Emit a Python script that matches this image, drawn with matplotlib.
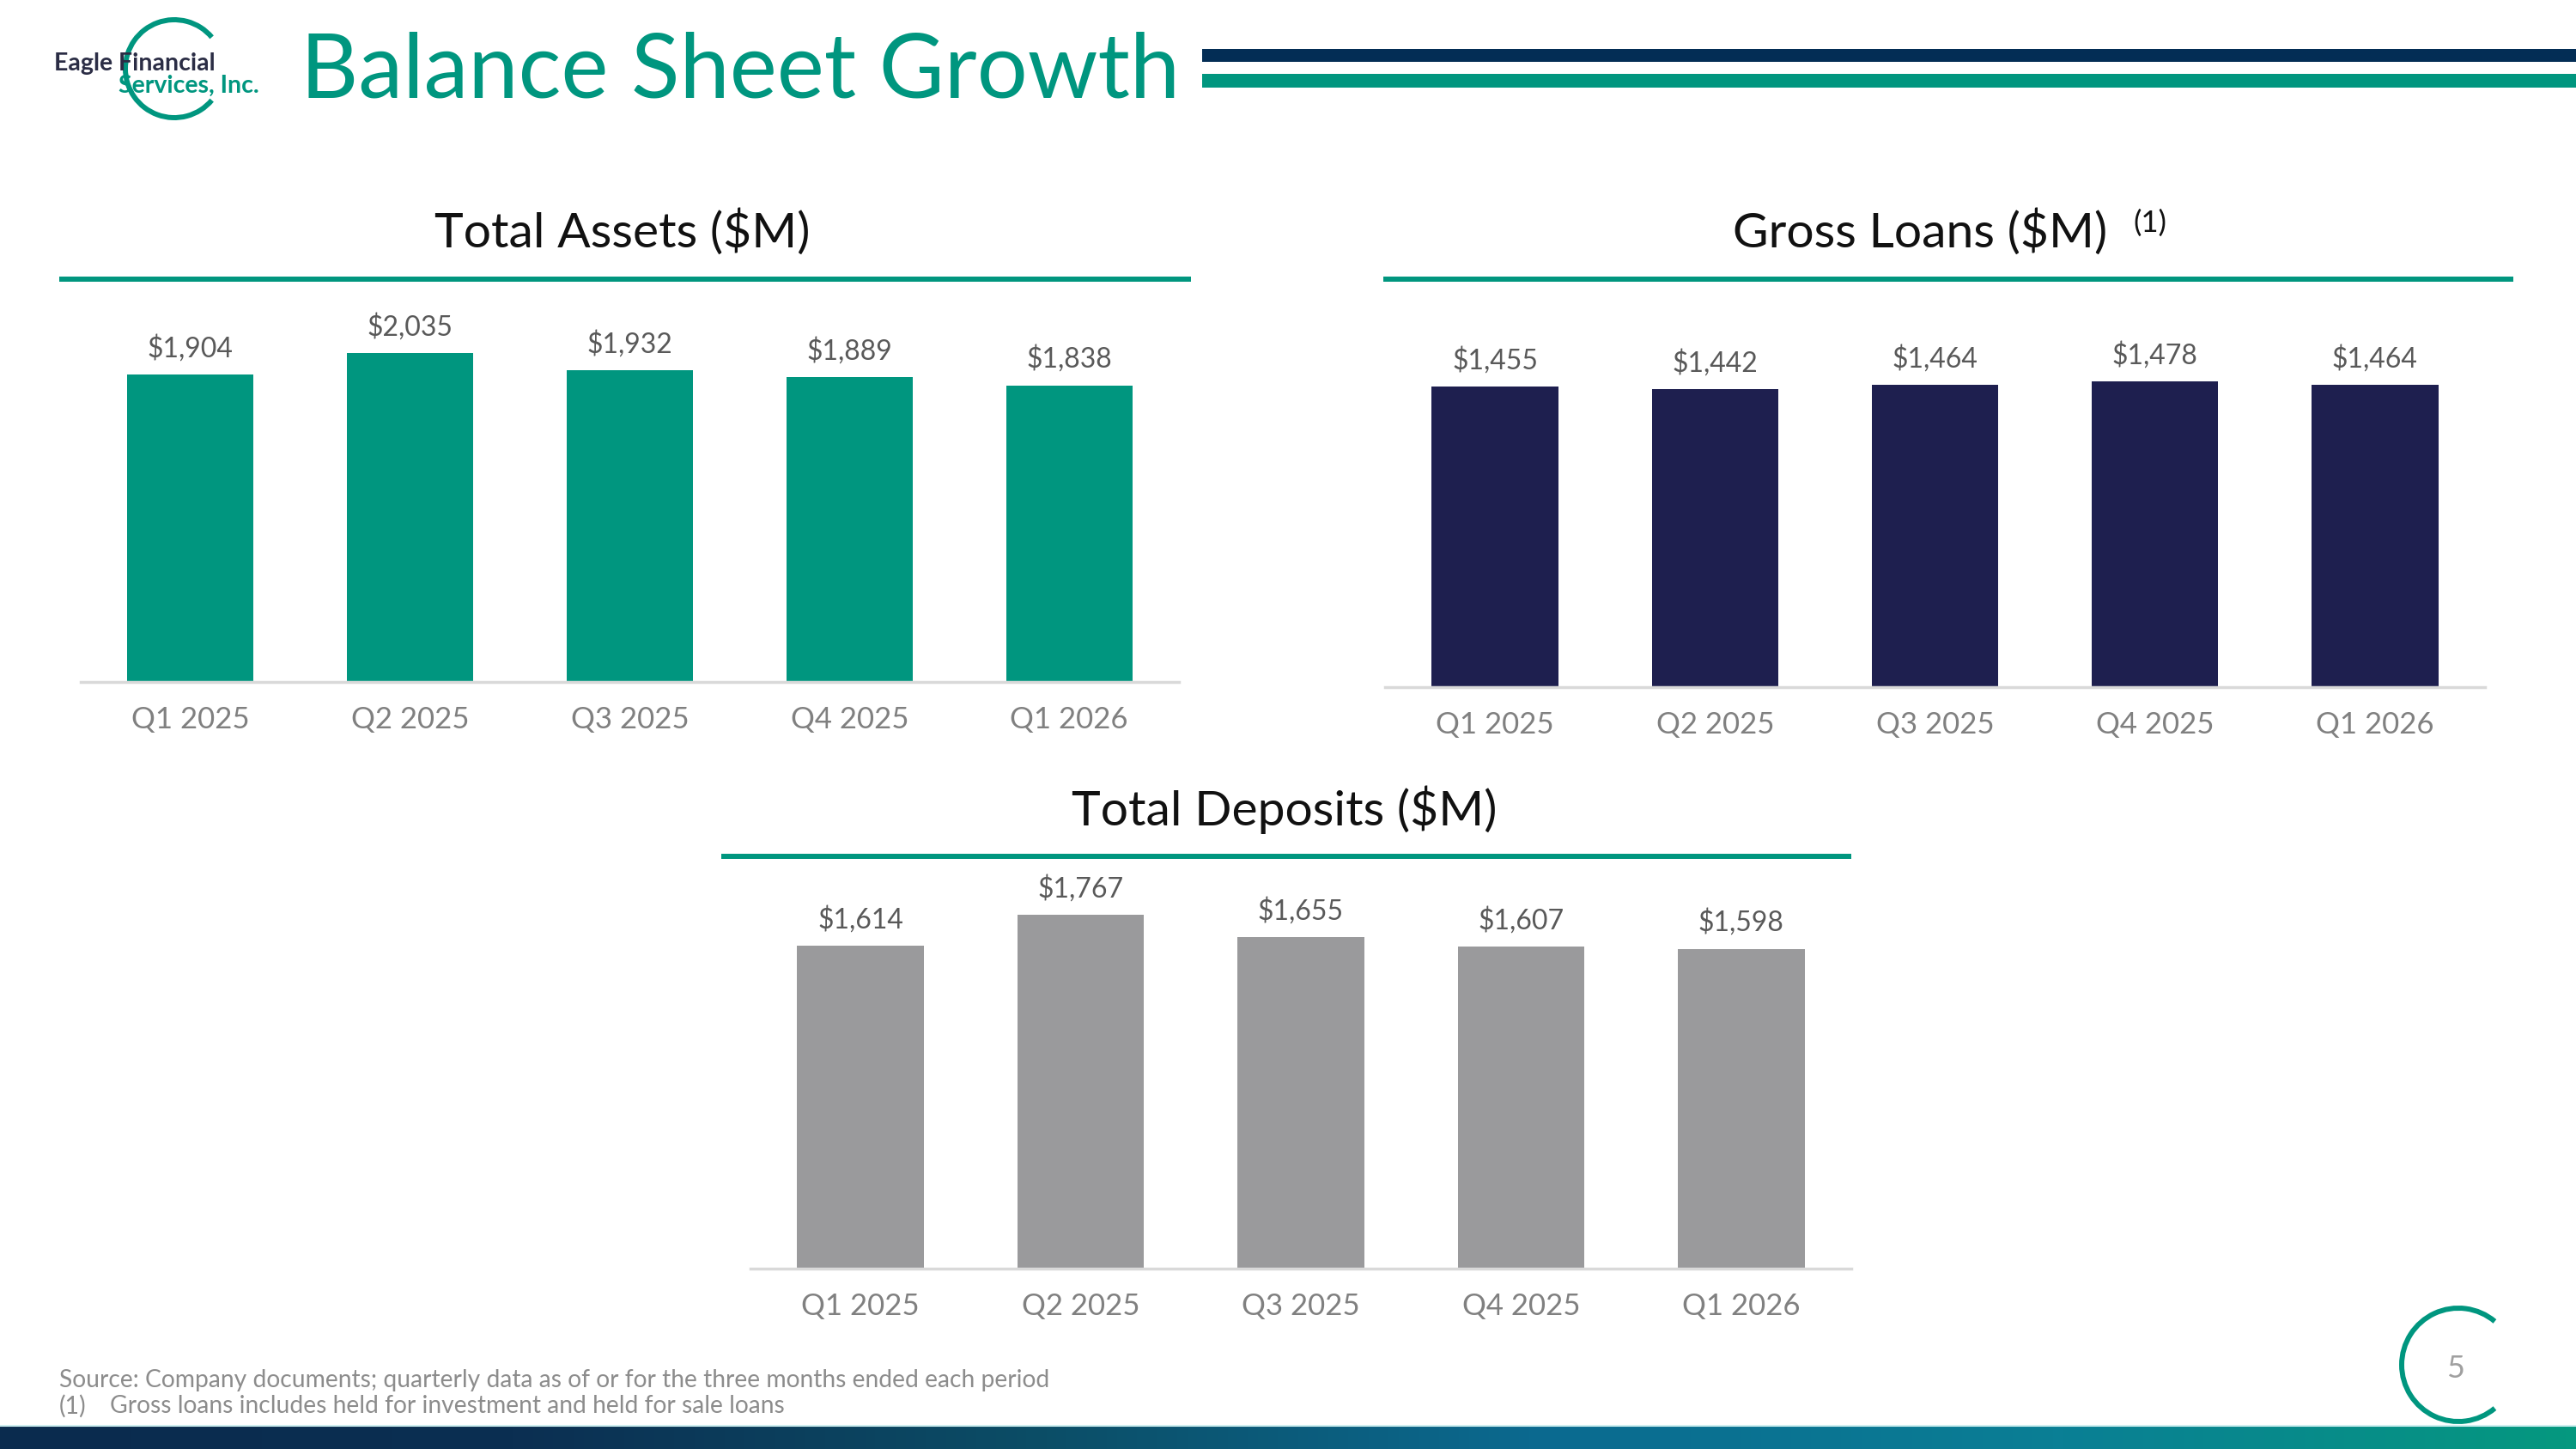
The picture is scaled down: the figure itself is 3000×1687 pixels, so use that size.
import numpy as np
import matplotlib.pyplot as plt
from matplotlib.patches import Arc, Rectangle
from matplotlib.colors import LinearSegmentedColormap

# Datos
quarters = ['Q1 2025', 'Q2 2025', 'Q3 2025', 'Q4 2025', 'Q1 2026']
total_assets = [1904, 2035, 1932, 1889, 1838]
gross_loans = [1455, 1442, 1464, 1478, 1464]
total_deposits = [1614, 1767, 1655, 1607, 1598]

W, H = 3000, 1687
TEAL = '#00967f'
NAVY_BAR = '#1e1f4f'
GRAY_BAR = '#9a9a9c'
NAVY_LINE = '#032d55'

plt.rcParams['font.family'] = ['Lato', 'DejaVu Sans']

fig = plt.figure(figsize=(30, 16.87), dpi=100)


def box(x0, y0, x1, y1):
    # pixel box (top-left origin) -> figure fraction
    return [x0 / W, 1 - y1 / H, (x1 - x0) / W, (y1 - y0) / H]


# capa de fondo en pixeles
bg = fig.add_axes([0, 0, 1, 1])
bg.axis('off')

# barra inferior con degradado
grad = LinearSegmentedColormap.from_list(
    'band', ['#0a2b4e', '#0b2f52', '#0b4d66', '#0b6a90', '#0a7f95', '#05987f'])
bg.imshow(np.linspace(0, 1, 256)[None, :], cmap=grad, aspect='auto',
          extent=[0, W, H, 1660], zorder=1)
bg.plot([0, W], [1660, 1660], color='#cfeff0', lw=1.5, zorder=2)

bg.set_xlim(0, W)
bg.set_ylim(H, 0)

# cabecera
bg.add_patch(Rectangle((1400, 57), W - 1400, 15, color=NAVY_LINE, lw=0))
bg.add_patch(Rectangle((1400, 86), W - 1400, 16, color=TEAL, lw=0))
bg.text(350, 84, 'Balance Sheet Growth', fontsize=75, color=TEAL,
        ha='left', va='center')

# logo
bg.add_patch(Arc((203, 80), 114, 114, theta1=40, theta2=320, color=TEAL, lw=4.3, zorder=1))
bg.text(63, 74, 'Eagle Financial', fontsize=20.5, fontweight='bold',
        color='#2b2d45', ha='left', va='center', zorder=3)
bg.text(138, 100, 'Services, Inc.', fontsize=20.5, fontweight='bold',
        color=TEAL, ha='left', va='center', zorder=3)

# numero de pagina
bg.add_patch(Arc((2863, 1589), 132, 132, theta1=50, theta2=310, color=TEAL, lw=4.3))
bg.text(2860, 1593, '5', fontsize=26, color='#a0a0a0', ha='center', va='center')

# pie
FOOT = 20.3
bg.text(69, 1607, 'Source: Company documents; quarterly data as of or for the three months ended each period',
        fontsize=FOOT, color='#8c8c8c', ha='left', va='center')
bg.text(69, 1637, '(1)', fontsize=FOOT, color='#8c8c8c', ha='left', va='center')
bg.text(128, 1637, 'Gross loans includes held for investment and held for sale loans',
        fontsize=FOOT, color='#8c8c8c', ha='left', va='center')


def panel(x0, x1, y_top, y_base, values, color, ymax):
    ax = fig.add_axes(box(x0, y_top, x1, y_base))
    ax.bar(range(len(values)), values, width=0.575, color=color, zorder=2)
    ax.set_xlim(-0.5, len(values) - 0.5)
    ax.set_ylim(0, ymax)
    for i, v in enumerate(values):
        ax.annotate(f'${v:,}', (i, v), xytext=(0, 22), textcoords='offset points',
                    ha='center', va='center', fontsize=23, color='#595959')
    ax.set_xticks(range(len(values)), quarters)
    ax.set_yticks([])
    ax.tick_params(axis='x', length=0, pad=20, labelsize=25, labelcolor='#808080')
    for s in ['top', 'right', 'left']:
        ax.spines[s].set_visible(False)
    ax.spines['bottom'].set_color('#d9d9d9')
    ax.spines['bottom'].set_linewidth(2.5)
    ax.patch.set_alpha(0)
    return ax


# Total Assets
bg.text(725, 270, 'Total Assets ($M)', fontsize=41, color='#111111', ha='center', va='center')
bg.plot([69, 1387], [325, 325], color=TEAL, lw=4.3, solid_capstyle='butt')
panel(94, 1373, 340, 794, total_assets, TEAL, 454 * 5.32)

# Gross Loans
bg.text(2236, 270, 'Gross Loans ($M)', fontsize=41, color='#111111', ha='center', va='center')
bg.text(2484, 260, '(1)', fontsize=25, color='#111111', ha='left', va='center')
bg.plot([1611, 2927], [325, 325], color=TEAL, lw=4.3, solid_capstyle='butt')
panel(1613, 2894, 340, 800, gross_loans, NAVY_BAR, 460 * 4.156)

# Total Deposits
bg.text(1496, 943, 'Total Deposits ($M)', fontsize=41, color='#111111', ha='center', va='center')
bg.plot([840, 2156], [997, 997], color=TEAL, lw=4.3, solid_capstyle='butt')
panel(874, 2156, 1010, 1477, total_deposits, GRAY_BAR, 467 * 4.29)

plt.savefig('out.png', dpi=100)
